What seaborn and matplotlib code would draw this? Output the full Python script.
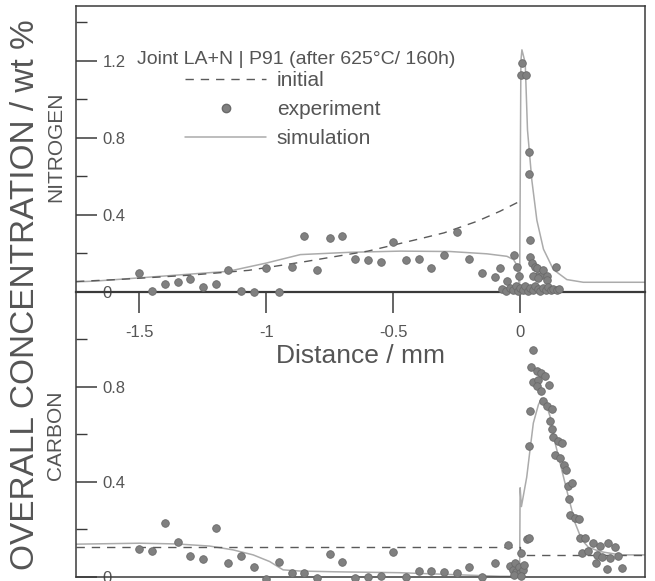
import matplotlib
matplotlib.use("Agg")
import matplotlib.pyplot as plt
import seaborn as sns
from matplotlib.lines import Line2D

# ---- nitrogen panel (top) ----
n_exp_x = [-1.50, -1.45, -1.40, -1.35, -1.30, -1.25, -1.20, -1.15, -1.10, -1.05,
           -1.00, -0.95, -0.90, -0.85, -0.80, -0.75, -0.70, -0.65, -0.60, -0.55,
           -0.50, -0.45, -0.40, -0.35, -0.30, -0.25, -0.20, -0.15, -0.10, -0.08,
           -0.05, -0.026, -0.013, -0.003, 0.007, 0.003, 0.024, 0.033, 0.035, 0.037,
           0.039, 0.046, 0.059, 0.066, 0.066, 0.085, 0.092, 0.105, 0.105, 0.142,
           0.052, 0.070,
           -0.07, -0.055, -0.04, -0.03, -0.015, -0.01, 0.0, 0.01, 0.02, 0.03,
           0.04, 0.05, 0.06, 0.07, 0.08, 0.09, 0.10, 0.11, 0.12, 0.13, 0.145, 0.155]
n_exp_y = [0.094, 0.005, 0.040, 0.047, 0.067, 0.026, 0.040, 0.110, 0.005, 0.0,
           0.120, 0.0, 0.130, 0.290, 0.114, 0.280, 0.290, 0.170, 0.166, 0.156,
           0.256, 0.164, 0.168, 0.120, 0.190, 0.310, 0.170, 0.094, 0.074, 0.120,
           0.056, 0.190, 0.130, 0.080, 1.188, 1.127, 1.127, 0.726, 0.613, 0.267,
           0.180, 0.150, 0.130, 0.080, 0.120, 0.088, 0.114, 0.080, 0.062, 0.130,
           0.080, 0.070,
           0.015, 0.005, 0.020, 0.010, 0.030, 0.005, 0.020, 0.010, 0.030, 0.005,
           0.020, 0.010, 0.030, 0.015, 0.005, 0.020, 0.010, 0.025, 0.008, 0.015, 0.010, 0.012]

n_init_x = [-1.75, -1.59, -1.30, -1.07, -0.84, -0.76, -0.60, -0.52, -0.38, -0.30, -0.17, -0.08, 0.0]
n_init_y = [0.052, 0.062, 0.085, 0.110, 0.157, 0.175, 0.210, 0.235, 0.279, 0.305, 0.365, 0.417, 0.470]

n_sim_x = [-1.75, -1.676, -1.50, -1.15, -1.00, -0.866, -0.669, -0.472, -0.276, -0.131,
           -0.052, -0.026, -0.010, -0.002, 0.003, 0.007, 0.020, 0.029, 0.046, 0.066,
           0.092, 0.131, 0.184, 0.249, 0.49]
n_sim_y = [0.050, 0.054, 0.071, 0.105, 0.148, 0.192, 0.204, 0.210, 0.208, 0.196,
           0.183, 0.166, 0.130, 0.0, 1.20, 1.257, 1.19, 0.84, 0.58, 0.37,
           0.22, 0.114, 0.062, 0.048, 0.048]

# ---- carbon panel (bottom) ----
c_exp_x = [-1.50, -1.45, -1.40, -1.35, -1.30, -1.25, -1.20, -1.15, -1.10, -1.05,
           -1.00, -0.95, -0.90, -0.85, -0.80, -0.75, -0.70, -0.65, -0.60, -0.55,
           -0.50, -0.45, -0.40, -0.35, -0.30, -0.25, -0.20, -0.15, -0.10, -0.046,
           -0.04, -0.03, -0.02, -0.015, -0.005, 0.0, 0.01, 0.015, -0.025, 0.005,
           0.003, 0.026, 0.033,
           0.035, 0.039, 0.042, 0.052, 0.066, 0.081, 0.098, 0.052, 0.072, 0.114,
           0.068, 0.081, 0.092, 0.105, 0.125, 0.118, 0.125, 0.131, 0.151, 0.164,
           0.138, 0.157, 0.174, 0.181, 0.190, 0.206, 0.194, 0.197, 0.217, 0.230,
           0.236, 0.256, 0.243, 0.289, 0.315, 0.345, 0.374, 0.269, 0.302, 0.322,
           0.354, 0.387, 0.299, 0.341, 0.400]
c_exp_y = [0.117, 0.109, 0.229, 0.149, 0.090, 0.077, 0.208, 0.058, 0.088, 0.041,
           -0.010, 0.065, 0.015, 0.018, -0.005, 0.095, 0.065, -0.004, 0.0, 0.004,
           0.104, 0.0, 0.025, 0.025, 0.021, 0.018, 0.043, 0.0, 0.058, 0.135,
           0.045, 0.030, 0.060, 0.020, 0.040, 0.015, 0.030, 0.050, 0.010, 0.005,
           0.100, 0.159, 0.163,
           0.549, 0.696, 0.883, 0.953, 0.864, 0.858, 0.846, 0.818, 0.827, 0.808,
           0.801, 0.780, 0.738, 0.720, 0.706, 0.654, 0.623, 0.587, 0.573, 0.563,
           0.511, 0.500, 0.469, 0.448, 0.384, 0.395, 0.328, 0.261, 0.247, 0.243,
           0.166, 0.163, 0.100, 0.142, 0.131, 0.142, 0.128, 0.111, 0.093, 0.086,
           0.079, 0.088, 0.058, 0.032, 0.039]

c_init_x = [-1.75, 0.0, 0.0, 0.49]
c_init_y = [0.125, 0.125, 0.093, 0.093]

c_sim_x = [-1.75, -1.50, -1.354, -1.223, -1.131, -1.052, -0.987, -0.934, -0.866, -0.735,
           -0.472, -0.21, -0.079, -0.002, 0.0, 0.005, 0.026, 0.039, 0.052, 0.072,
           0.085, 0.098, 0.118, 0.138, 0.164, 0.19, 0.217, 0.243, 0.269, 0.315,
           0.394, 0.49]
c_sim_y = [0.138, 0.142, 0.139, 0.130, 0.114, 0.093, 0.065, 0.030, 0.025, 0.022,
           0.018, 0.008, 0.003, 0.003, 0.375, 0.296, 0.42, 0.535, 0.647, 0.724,
           0.752, 0.738, 0.675, 0.563, 0.45, 0.338, 0.226, 0.156, 0.125, 0.107,
           0.093, 0.093]

sns.set_style("white")
plt.rcParams['font.family'] = ['Liberation Sans', 'DejaVu Sans']

TXT = '#555555'
AX = '#3a3a3a'
DOT = '#808080'
DOT_EDGE = '#6a6a6a'
SIM = '#ababab'
INIT = '#5a5a5a'
DASH = (0, (6, 5))

fig = plt.figure(figsize=(6.55, 5.81), dpi=100)
L, R = 76 / 655, 645 / 655
y_mid = 1 - 291.5 / 581
ax_n = fig.add_axes([L, y_mid, R - L, (1 - 6 / 581) - y_mid])
ax_c = fig.add_axes([L, 1 - 577 / 581, R - L, y_mid - (1 - 577 / 581)])
ax_n.set_zorder(3)
ax_n.patch.set_alpha(0)

for ax, ex, ey, ix, iy, sx, sy in [
        (ax_n, n_exp_x, n_exp_y, n_init_x, n_init_y, n_sim_x, n_sim_y),
        (ax_c, c_exp_x, c_exp_y, c_init_x, c_init_y, c_sim_x, c_sim_y)]:
    sns.lineplot(x=sx, y=sy, ax=ax, estimator=None, sort=False, color=SIM, lw=1.1, zorder=2)
    sns.lineplot(x=ix, y=iy, ax=ax, estimator=None, sort=False, color=INIT, lw=1.0,
                 linestyle=DASH, zorder=2)
    sns.scatterplot(x=ex, y=ey, ax=ax, color=DOT, edgecolor=DOT_EDGE, linewidth=0.6,
                    s=30, zorder=4, clip_on=False, legend=False)
    ax.set_xlim(-1.75, 0.492)
    for sp in ax.spines.values():
        sp.set_color(AX)
        sp.set_linewidth(1.1)
    ax.tick_params(axis='y', which='major', left=True, direction='in', length=15, width=1.1,
                   color=AX, labelcolor=TXT, labelsize=12, pad=-19)
    ax.tick_params(axis='y', which='minor', left=True, direction='in', length=8,
                   width=1.0, color=AX)
    ax.set_xlabel('')
    ax.set_ylabel('')

ax_n.set_ylim(0, 1.485)
ax_n.set_yticks([0, 0.4, 0.8, 1.2], ['0', '0.4', '0.8', '1.2'])
ax_n.set_yticks([0.2, 0.6, 1.0, 1.4], minor=True)
ax_n.spines['bottom'].set_linewidth(1.6)
ax_n.set_xticks([-1.5, -1, -0.5, 0], ['-1.5', '-1', '-0.5', '0'])
ax_n.tick_params(axis='x', which='major', bottom=True, direction='out', length=15,
                 width=1.1, color=AX, labelcolor=TXT, labelsize=12, pad=9)
ax_n.set_xlabel('Distance / mm', fontsize=19, color=TXT, labelpad=3)

ax_c.set_ylim(0, 1.2)
ax_c.set_yticks([0, 0.4, 0.8], ['0', '0.4', '0.8'])
ax_c.set_yticks([0.2, 0.6, 1.0], minor=True)
ax_c.spines['top'].set_visible(False)
ax_c.set_xticks([])

for ax in (ax_n, ax_c):
    plt.setp(ax.get_yticklabels(), ha='left')

# header + legend
fig.text(137 / 655, 1 - 60 / 581, 'Joint LA+N | P91 (after 625\u00b0C/ 160h)',
         fontsize=14, color=TXT, va='center', ha='left')
handles = [
    Line2D([], [], color=INIT, lw=1.0, linestyle=DASH),
    Line2D([], [], color=DOT, marker='o', markeredgecolor=DOT_EDGE, markersize=6, lw=0),
    Line2D([], [], color=SIM, lw=1.1),
]
ax_n.legend(handles, ['initial', 'experiment', 'simulation'], loc='upper left',
            bbox_to_anchor=((185 - 76) / 569, 1 - (71 - 6) / 285.5), frameon=False,
            fontsize=15, handlelength=3.9, handletextpad=0.5, labelspacing=0.48,
            borderpad=0, borderaxespad=0, labelcolor=TXT)

fig.text(26 / 655, 1 - 295 / 581, 'OVERALL CONCENTRATION / wt %', rotation=90,
         fontsize=24, color=TXT, ha='center', va='center')
fig.text(56 / 655, 1 - 147 / 581, 'NITROGEN', rotation=90, fontsize=15, color=TXT,
         ha='center', va='center')
fig.text(56 / 655, 1 - 435 / 581, 'CARBON', rotation=90, fontsize=15, color=TXT,
         ha='center', va='center')

fig.savefig('out.png', dpi=100)
